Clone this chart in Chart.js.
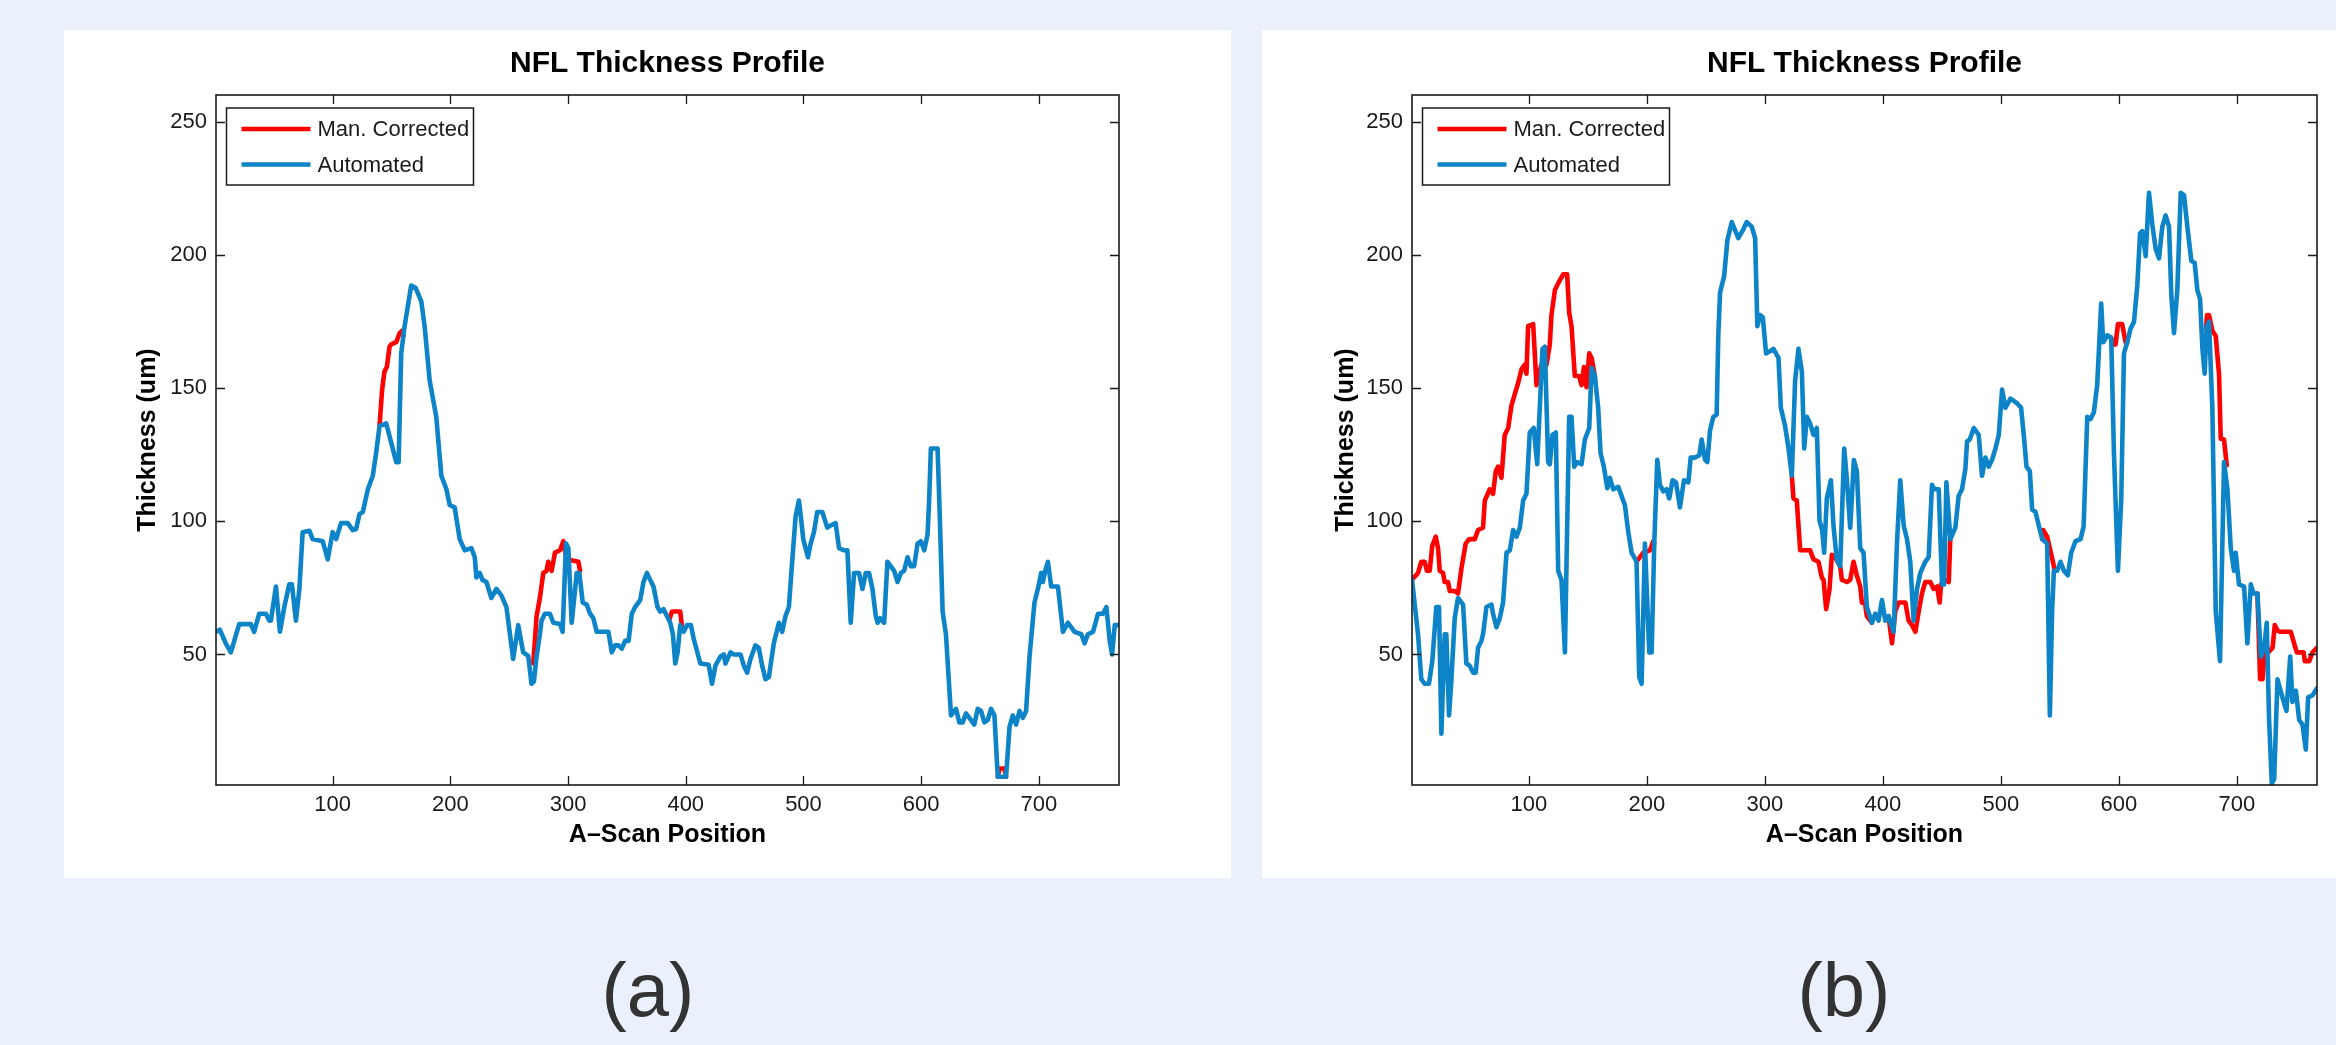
<!DOCTYPE html>
<html>
<head>
<meta charset="utf-8">
<title>NFL Thickness Profile</title>
<script src="https://cdn.jsdelivr.net/npm/chart.js@4.4.1/dist/chart.umd.min.js"></script>
<style>
  html, body { margin: 0; padding: 0; }
  body {
    width: 2336px; height: 1045px; overflow: hidden; position: relative;
    background: #eaf1fc;
    font-family: "Liberation Sans", Arial, Helvetica, sans-serif;
  }
  .panel { position: absolute; top: 30px; height: 848px; background: #fff; }
  .panel canvas { display: block; }
  #panelA { left: 64px; width: 1167px; }
  #panelB { left: 1262px; width: 1074px; }
  .tag {
    position: absolute; top: 952px; width: 200px; text-align: center;
    font-size: 76px; line-height: 76px; color: #333;
  }
</style>
</head>
<body>
<div class="panel" id="panelA"><canvas id="chartA" width="1167" height="848"></canvas></div>
<div class="panel" id="panelB"><canvas id="chartB" width="1074" height="848"></canvas></div>
<div class="tag" style="left:548px">(a)</div>
<div class="tag" style="left:1744px">(b)</div>

<script>
/* NFL thickness profiles: manual correction vs automated segmentation */

// ---- AXES ----
const xTicks = [100, 200, 300, 400, 500, 600, 700];
const yTicks = [50, 100, 150, 200, 250];
const xRange = [1, 768];
const yRange = [1, 260];

// ---- (a) automated trace, [A-scan, thickness] ----
const autoA = [
  [1,58.5],[4.2,59.3],[9.3,54.2],[13.6,50.8],[20.7,61.4],[30.6,61.4],[33.4,58.5],[37.7,65.3],
  [43.4,65.3],[46.2,62.7],[47.6,62.7],[51.9,75.5],[55.3,58.5],[59,67.8],[63.2,76.3],[65.5,76.3],
  [68.9,62.7],[71.8,74.6],[74.6,95.9],[80.3,96.4],[83.1,93.3],[91.6,92.5],[95.9,85.7],[100.1,95.9],
  [103,93.3],[107.2,99.3],[112.9,99.3],[117.2,96.7],[120,97.1],[122.9,102.7],[125.7,103.5],[130,112],
  [134.2,117.1],[137,125.6],[139.9,135.8],[145.6,136.7],[154.1,122.2],[156.1,122.2],[158.3,163],
  [161.2,173.2],[166.8,188.5],[170.5,187.6],[175.4,182.5],[178.2,173.2],[182.5,152.8],[188.1,139.2],
  [192.4,117.1],[196.7,112],[199.5,106.1],[203.7,105.2],[208,93.3],[212.3,89.1],[217.9,89.9],
  [220.8,86.5],[222.2,78.9],[225,80.6],[227.3,78],[230.7,77.2],[234.9,71.2],[239.2,74.6],[243.5,72.1],
  [247.7,67.8],[253.4,48.3],[257.7,61],[261.9,50.8],[266.2,49.5],[269,39],[271,39.8],[273.3,49.2],
  [276.1,57.6],[277.5,62.7],[280.4,65.3],[284.6,65.3],[287.5,61.9],[293.2,61.4],[295.4,58.5],
  [298.3,91.6],[300.3,89.9],[303.1,61.9],[304.5,67.8],[307.4,80.6],[309.6,80.6],[312.5,69.5],
  [315.9,68.7],[318.7,65.3],[321.5,63.6],[324.4,58.5],[334.3,58.5],[337.2,50.8],[340,53.4],
  [342.8,53.4],[345.7,52.2],[348.5,55.1],[351.4,55.1],[354.2,65.3],[357,67.8],[361.3,70.4],
  [364.1,77.2],[367,80.6],[369.8,78],[372.6,75.5],[376,67.8],[378.3,66.1],[381.1,67],[384,64.4],
  [386.8,61.9],[389.1,57.6],[391.1,46.6],[393.1,50.8],[395.3,61],[398.2,58.5],[401,61],[404.4,61],
  [406.7,56],[412.4,46.6],[419.5,46.1],[422.3,39],[425.2,45.8],[429.4,49.2],[432.3,50],[433.7,46.6],
  [438,50.8],[440.8,50],[446.5,50],[449.3,45.8],[452.1,43.2],[455,48.3],[459.2,53.4],[462,52.5],
  [464.9,45.8],[467.7,40.7],[470.6,41.5],[474.8,54.2],[477.7,59.3],[479.1,61.9],[481.9,58.5],
  [484.7,64.4],[487.6,67.8],[490.4,84.8],[493.3,101.8],[496.1,107.8],[497.5,102.7],[499.8,93.3],
  [503.8,86.5],[506.1,91.6],[508.9,95.9],[511.7,103.5],[516,103.5],[520.2,97.6],[523,98.4],
  [527.3,99.3],[530.2,89.9],[534.4,89.1],[537.3,89.1],[540.1,61.9],[543,80.6],[547.2,80.6],
  [550.1,74.6],[552.9,80.6],[555.7,80.6],[558.6,74.6],[561.4,64.4],[563,61.9],[565.1,63.6],
  [568.5,61.9],[571.3,84.8],[574.2,83.1],[577,81.4],[579.9,77.2],[582.7,80.6],[585.5,81.4],
  [588.4,86.5],[591.2,83.1],[594,83.1],[596.9,91.6],[599.7,92.5],[602.6,89.1],[605.4,95],
  [606.8,108.6],[608.2,127.3],[613.9,127.3],[615.3,108.6],[618.2,66.1],[621,57.6],[625.3,27.1],
  [629.5,29.6],[632.4,24.5],[635.2,24.5],[638,27.9],[640.9,26.2],[645.1,23.7],[648,29.6],
  [650.8,28.8],[653.7,24.5],[656.5,25.4],[659.3,29.6],[662.2,27.1],[665,4.1],[672.1,4.1],
  [675,22.8],[677.8,27.1],[680.6,23.7],[683.5,28.8],[686.3,26.2],[689.1,28.8],[692,49.2],
  [696.2,69.5],[699.1,74.6],[701.9,80.6],[703.3,77.2],[705.3,81.4],[707.6,84.8],[710.4,75.5],
  [716.1,75.5],[720.4,58.5],[724.6,61.9],[730.3,58.5],[736,57.6],[738.8,54.2],[741.6,57.6],
  [745.9,58.5],[750.2,65.3],[754.4,65.3],[757.3,67.8],[760.1,55.1],[762.1,50],[764.4,61],[768,61]
];

// ---- (a) manual corrections, only where they leave the automated trace ----
const manA = [
  [[139.9,135.8],[142.1,149.4],[144.1,156.2],[146.1,157.9],[148.4,165.5],[149.8,166.4],
   [154.1,167.2],[156.9,170.6],[159.2,171.5],[160.3,169.8]],
  [[270.5,46.6],[273.3,64.4],[276.1,71.2],[279,80.6],[281.8,81.4],[283.2,84.8],[286.1,81.4],
   [288.9,88.2],[293.2,89.1],[296,92.5],[298.8,85.7],[308.8,84.8],[310.2,81.4]],
  [[386,63],[388.3,66.1],[395.3,66.1],[396.8,60.5]],
  [[665,4.1],[666.5,7.2],[671,7.2],[672.1,4.1]]
];

// ---- (b) automated trace ----
const autoB = [
  [1,78],[6.1,57.6],[8.9,40.7],[11.7,39],[15.4,39],[18.2,47.5],[21.6,67.8],[23.9,67.8],[25.9,20.3],
  [28.7,57.6],[30.1,57.6],[32.4,27.1],[34.4,40.7],[37.2,63.6],[40,71.2],[44.3,68.7],[47.1,46.6],
  [49.9,45.8],[52.8,43.2],[55,43.2],[57,52.5],[59.8,55.1],[61.2,57.6],[64.1,67.8],[68.3,68.7],
  [69.7,65.3],[72.6,60.2],[75.4,63.6],[78.2,69.5],[81.1,88.2],[83.9,89.1],[86.7,96.7],[89.5,94.2],
  [92.4,97.6],[95.2,107.8],[98,110.3],[100.8,133.3],[104.2,135],[107.1,121.4],[109.3,142.6],
  [111.6,164.7],[113.6,165.5],[116.4,122.2],[117.8,121.4],[120.1,132.4],[122.9,133.3],[124.9,81.4],
  [127.7,78],[130.6,50.8],[134.2,139.2],[136.2,139.2],[138.5,120.5],[141,122.2],[144.7,121.4],
  [147.5,130.7],[151.2,135],[153.2,157.6],[156,154.5],[158.8,142.6],[160.8,125.6],[163.6,120.5],
  [166.5,112.4],[168.7,116.3],[171.6,112],[175.8,112.9],[181.4,106.1],[184.3,95.9],[187.1,88.2],
  [191.3,84.8],[193.6,41.5],[195.6,39],[198.4,91.6],[202.1,50.8],[204.1,50.8],[206.3,91.6],
  [208.9,123.1],[211.1,113.7],[214,111.2],[216.8,112],[219,108.6],[221.9,115.4],[224.7,114.6],
  [228.1,105.2],[231.5,115.4],[235.2,114.6],[237.2,123.9],[240.9,123.9],[244.5,124.8],[246.5,130.7],
  [249.3,123.1],[251.3,122.2],[253.6,134.1],[256.4,139.2],[259.2,140],[260.6,169.8],[262.1,185.9],
  [265.5,191.9],[268.3,205.5],[272,212.3],[277.6,206.3],[281.9,209.7],[284.7,212.3],[288.9,210.6],
  [291.8,206.3],[293.7,173.2],[296,177.4],[298.3,176.6],[301.1,163],[304.5,163.8],[307.3,164.7],
  [311.6,161.3],[313.6,142.6],[317.2,135.8],[320.1,127.3],[322.9,117.1],[325.7,152.8],[328.5,164.7],
  [331.4,156.2],[333.4,127.3],[335.6,139.2],[338.4,136.7],[341.3,132.4],[344.1,135],[346.4,100.1],
  [348.6,96.7],[350.3,88.2],[352.6,108.6],[356,115.4],[358.2,98.4],[361,85.7],[363.9,83.1],
  [367.3,127.3],[369.6,115.4],[372.4,97.5],[375.5,123],[378,118.8],[380.9,89.9],[383.7,88.2],
  [386.5,67.8],[390.8,61.9],[393.6,65.3],[396.4,62.7],[399.3,70.4],[402.1,62.7],[404.9,64.4],
  [407.8,60.2],[409.2,58.5],[412,91.6],[414.8,115.4],[417.7,98.4],[420.5,93.3],[423.3,84.8],
  [426.1,62.7],[429,74.6],[431.8,80.6],[436,84.8],[438.9,86.5],[441.7,113.7],[443.7,112],
  [447.4,112],[450.2,76.3],[452,76.3],[453.9,114.6],[457.3,93.3],[461.5,97.6],[464.3,109.5],
  [467.1,112],[470,119.7],[471.4,129.9],[473.7,130.7],[477.1,135],[481.3,132.4],[484.1,117.1],
  [487,123.9],[489.8,120.5],[492.6,123.1],[495.5,127.3],[498.3,132.4],[501.1,149.4],[503.9,142.6],
  [508.2,146],[513.8,144.3],[517.2,142.6],[519.5,132.4],[521.8,120.5],[524.6,118.8],[526.6,104.4],
  [529.4,103.5],[532.2,98.4],[535.1,93.3],[539.3,91.6],[541.6,27.1],[543.5,66.1],[545,81.4],
  [547.8,81.4],[550.6,84.8],[553.5,81.4],[556.8,79.7],[559.7,88.2],[563.3,92.5],[567.6,93.3],
  [570.2,98],[573.3,139.2],[576.1,138.4],[578.9,140.9],[581.7,151.1],[585.1,181.7],[586.8,167.2],
  [590.2,169.8],[593.6,168.9],[595.9,125.6],[599.3,81.4],[602.1,108.6],[604.4,163],[607.2,167.2],
  [610,172.3],[612.9,174.9],[615.7,188.5],[618,208],[619.9,208.9],[622.8,199.5],[625.6,223.3],
  [628.4,211.4],[631.3,202.1],[634.1,198.7],[636.9,210.6],[639.7,214.8],[642.6,210.6],[644.5,185.1],
  [646.8,170.6],[649.6,186.8],[652.5,223.3],[655.3,222.4],[658.1,210.6],[661.5,197.8],[664.3,197],
  [666.6,186.8],[668.9,183.4],[670.9,164.7],[672.8,155.4],[674.5,173.2],[676.5,174.9],[679.3,142.6],
  [682.2,66.1],[685.8,47.5],[689.2,122.2],[692.1,112],[694.9,89.9],[697.7,81.4],[699.1,88.2],
  [701.9,76.3],[706.2,75.5],[709,54.2],[711.9,76.3],[714.1,72.9],[717.5,72.9],[720.4,49.2],
  [723.2,52.5],[725.4,61.9],[727.4,25.4],[729.7,1.6],[731.7,3.3],[734.5,40.7],[738.7,33.9],
  [742.1,28.8],[745.3,49.2],[747.2,32.2],[750.1,36.4],[752.9,25.4],[755.7,23.7],[758.5,14.3],
  [760.5,33.9],[764.2,34.7],[768,37.3]
];

// ---- (b) manual corrections ----
const manB = [
  [[1,78],[6.1,80.6],[8.9,84.8],[11.7,84.8],[13.7,81.4],[16,81.4],[18.2,90.8],[21.1,94.2],
   [23.1,89.9],[24.5,81.4],[27.3,80.6],[28.7,77.2],[31.5,77.2],[33,73.8],[37.2,73.8],[40,72.9],
   [42.9,82.3],[46.5,91.6],[49.4,93.3],[54.2,93.3],[57,96.7],[61.2,97.6],[62.7,107.8],[66.9,112],
   [69.7,110.3],[72,118.8],[74,120.5],[76.8,116.3],[79.6,132.4],[82.5,135],[85.3,143.5],
   [88.1,147.7],[91,152],[93.8,157],[96.6,158.8],[98,155.4],[99.4,173.2],[103.7,174],[106.5,151.1],
   [108,154.5],[110.7,158.8],[115,158.8],[117.8,166.4],[119.2,177.4],[122.1,186.8],[124.9,189.3],
   [129.1,192.7],[132.5,192.7],[134.2,178.3],[136.2,173.2],[139,154.5],[142.7,154.5],[144.7,151.1],
   [146.7,157.9],[148.9,150.3],[151.2,163],[153.2,161.3],[156,154.5]],
  [[191.3,84.8],[197,88.2],[202.7,89.1],[205.5,92.5],[206.3,91.6]],
  [[322.9,117.1],[324.3,108.6],[327.1,107.8],[330,89.1],[338.4,89.1],[341.3,85.7],[345.5,84.8],
   [348.3,78.9],[349.8,78],[352,67],[354.9,74.6],[356.8,87.4],[359.6,86.5],[363.9,83.1],[365.3,78],
   [369.6,77.2],[372.4,78],[375.2,84.8],[378,79.7],[380.9,75.5],[382.3,69.5],[385,69],[386.5,64.4],
   [390.8,61.9]],
  [[404.9,64.4],[407.8,54.2],[410.6,66.1],[413.4,69.5],[419.1,69.5],[421.9,62.7],[424.7,61],
   [427.6,58.5],[430.4,66.1],[433.2,72.9],[436,77.2],[440.3,77.2],[443.1,74.6],[446,75.5],
   [448.2,69.5],[449.3,76.3],[453,78],[455.9,77.2],[457.3,94.2]],
  [[535.1,93.3],[535.9,96.7],[539.3,94.2],[541.6,89.9],[545,83.1],[545.5,81.4]],
  [[593.6,168.9],[595,166.4],[597.3,166.4],[599.3,174],[602.9,174],[605.8,167.2],[607.2,167.2]],
  [[674,172],[674.8,177.4],[676.5,177.4],[679.3,171.5],[682.2,169.5],[685,155],[686.4,131],
   [689.2,130.7],[691.5,121]],
  [[717.5,72.9],[719.8,40.7],[721.8,40.7],[723.8,50.8],[726.6,50.8],[730.3,52.5],[732.2,61],
   [734.5,59],[736.8,58.5],[745.8,58.5],[748.6,54.2],[750.9,50.8],[756.6,50.8],[757.7,47.5],
   [761.4,47.5],[764.2,50.8],[768,52.5]]
];

// ---- STYLE ----
const RED = '#ff0000';
const BLUE = '#0d84c8';
const INK = '#1a1a1a';
const FONT = '"Liberation Sans", Arial, Helvetica, sans-serif';
const LINE_W = 4.6;

Chart.defaults.font.family = FONT;
Chart.defaults.color = INK;

function toPoints(pairs) {
    return pairs.map(p => ({ x: p[0], y: p[1] }));
}

// segments joined with a null point so the line breaks between them
function joinSegments(segs) {
    const out = [];
    segs.forEach((seg, i) => {
        if (i > 0) out.push({ x: seg[0][0] - 0.01, y: null });
        seg.forEach(p => out.push({ x: p[0], y: p[1] }));
    });
    return out;
}

// MATLAB style box with inward ticks on all four sides
const frameBox = {
    id: 'frameBox',
    afterDatasetsDraw(chart) {
        const { ctx, chartArea: a, scales: { x, y } } = chart;
        const len = 9;
        ctx.save();
        ctx.strokeStyle = INK;
        ctx.lineWidth = 1.3;
        ctx.beginPath();
        x.ticks.forEach(t => {
            const px = Math.round(x.getPixelForValue(t.value)) + 0.5;
            ctx.moveTo(px, a.bottom); ctx.lineTo(px, a.bottom - len);
            ctx.moveTo(px, a.top); ctx.lineTo(px, a.top + len);
        });
        y.ticks.forEach(t => {
            const py = Math.round(y.getPixelForValue(t.value)) + 0.5;
            ctx.moveTo(a.left, py); ctx.lineTo(a.left + len, py);
            ctx.moveTo(a.right, py); ctx.lineTo(a.right - len, py);
        });
        ctx.stroke();
        ctx.lineWidth = 1.6;
        ctx.strokeRect(a.left, a.top, a.right - a.left, a.bottom - a.top);
        ctx.restore();
    }
};

// legend box inside the top-left corner of the plot
const insideLegend = {
    id: 'insideLegend',
    afterDraw(chart) {
        const { ctx, chartArea: a } = chart;
        const bx = a.left + 10.5, by = a.top + 13, bw = 247, bh = 77;
        ctx.save();
        ctx.fillStyle = '#fff';
        ctx.fillRect(bx, by, bw, bh);
        ctx.strokeStyle = INK;
        ctx.lineWidth = 1.5;
        ctx.strokeRect(bx, by, bw, bh);
        ctx.font = '22px ' + FONT;
        ctx.textBaseline = 'middle';
        chart.data.datasets.forEach((ds, i) => {
            const ly = by + 21 + i * 35.5;
            ctx.strokeStyle = ds.borderColor;
            ctx.lineWidth = LINE_W;
            ctx.beginPath();
            ctx.moveTo(bx + 15, ly);
            ctx.lineTo(bx + 84, ly);
            ctx.stroke();
            ctx.fillStyle = INK;
            ctx.fillText(ds.label, bx + 91, ly + 1);
        });
        ctx.restore();
    }
};

function lineSet(label, data, color, order) {
    return {
        label: label,
        data: data,
        borderColor: color,
        backgroundColor: color,
        borderWidth: LINE_W,
        borderJoinStyle: 'round',
        borderCapStyle: 'round',
        pointRadius: 0,
        tension: 0,
        fill: false,
        spanGaps: false,
        order: order
    };
}

function drawProfile(canvasId, autoData, manSegs, yAxisWidth, rightPad) {
    return new Chart(document.getElementById(canvasId), {
        type: 'line',
        data: {
            datasets: [
                lineSet('Man. Corrected', joinSegments(manSegs), RED, 2),
                lineSet('Automated', toPoints(autoData), BLUE, 1)
            ]
        },
        plugins: [frameBox, insideLegend],
        options: {
            responsive: false,
            devicePixelRatio: 1,
            animation: false,
            events: [],
            layout: { padding: { top: 0, left: 0, bottom: 0, right: rightPad } },
            plugins: {
                legend: { display: false },
                tooltip: { enabled: false },
                title: {
                    display: true,
                    fullSize: false,
                    text: 'NFL Thickness Profile',
                    color: '#000',
                    font: { size: 30, weight: 'bold' },
                    padding: { top: 16, bottom: 13 }
                }
            },
            scales: {
                x: {
                    type: 'linear',
                    min: xRange[0],
                    max: xRange[1],
                    grid: { display: false, drawTicks: false },
                    border: { display: false },
                    afterBuildTicks: s => { s.ticks = xTicks.map(v => ({ value: v })); },
                    afterFit: s => { s.height = 93; },
                    ticks: {
                        font: { size: 22 },
                        color: INK,
                        padding: 7,
                        maxRotation: 0,
                        autoSkip: false
                    },
                    title: {
                        display: true,
                        text: 'A\u2013Scan Position',
                        color: '#000',
                        font: { size: 25, weight: 'bold' },
                        padding: { top: 0, bottom: 28 }
                    }
                },
                y: {
                    type: 'linear',
                    min: yRange[0],
                    max: yRange[1],
                    grid: { display: false, drawTicks: false },
                    border: { display: false },
                    afterBuildTicks: s => { s.ticks = yTicks.map(v => ({ value: v })); },
                    afterFit: s => { s.width = yAxisWidth; },
                    ticks: {
                        font: { size: 22 },
                        color: INK,
                        padding: 9
                    },
                    title: {
                        display: true,
                        text: 'Thickness (um)',
                        color: '#000',
                        font: { size: 25, weight: 'bold' },
                        padding: { top: 69, bottom: 0 }
                    }
                }
            }
        }
    });
}

drawProfile('chartA', autoA, manA, 152, 112);
drawProfile('chartB', autoB, manB, 150, 19);
</script>
</body>
</html>
